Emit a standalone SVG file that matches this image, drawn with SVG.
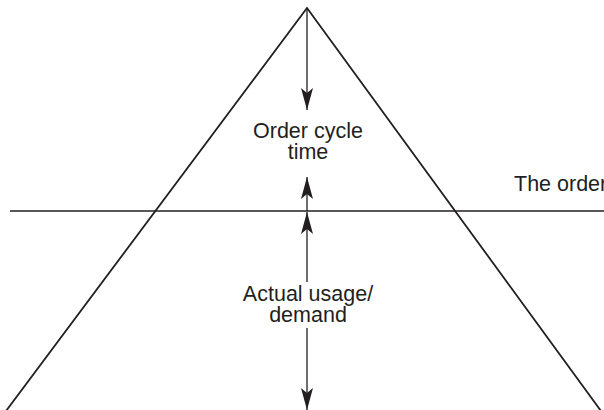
<svg xmlns="http://www.w3.org/2000/svg" width="604" height="410" viewBox="0 0 604 410">
<style>
.ln{fill:none;stroke:#231f20;stroke-width:1.8}
.ar{fill:none;stroke:#231f20;stroke-width:1.3}
.t{font-family:"Liberation Sans",Arial,sans-serif;font-size:21.5px;fill:#231f20}
.c{text-anchor:middle}
</style>
<defs>
<marker id="ah" markerUnits="userSpaceOnUse" markerWidth="24" markerHeight="14" refX="22" refY="6.5" orient="auto">
<path d="M22,6.5 L0,0.5 L5,6.5 L0,12.5 Z" fill="#231f20"/>
</marker>
</defs>
<rect width="604" height="410" fill="#fff"/>
<g id="triangle">
<path class="ln" d="M6,411 L307,8 L601,411"/>
</g>
<g id="order-line">
<path class="ln" d="M10,211 H604" style="stroke-width:1.5"/>
<text class="t" x="514" y="191">The order</text>
</g>
<g id="connectors">
<path class="ar" d="M307,8 V110" marker-end="url(#ah)"/>
<path class="ar" d="M307,211 V177" marker-end="url(#ah)"/>
<path class="ar" d="M307,282 V212" marker-end="url(#ah)"/>
<path class="ar" d="M307,328 V410" marker-end="url(#ah)"/>
</g>
<g id="order-cycle-time">
<text class="t c" x="308" y="138">Order cycle</text>
<text class="t c" x="308" y="159">time</text>
</g>
<g id="actual-usage">
<text class="t c" x="308" y="301">Actual usage/</text>
<text class="t c" x="308" y="322">demand</text>
</g>
</svg>
